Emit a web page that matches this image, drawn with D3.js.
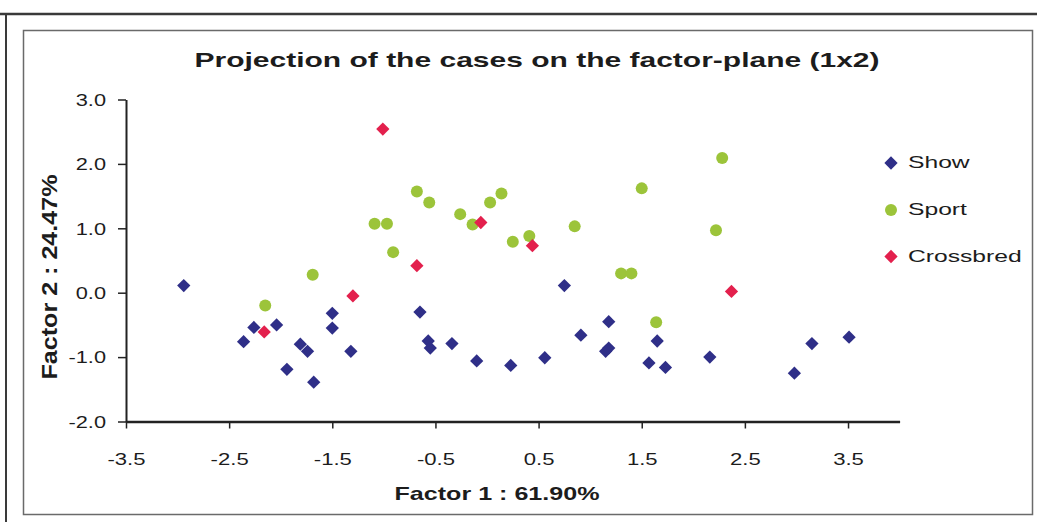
<!DOCTYPE html>
<html><head><meta charset="utf-8">
<script src="https://cdn.jsdelivr.net/npm/d3@7"></script>
<style>
body{margin:0;background:#fff}
svg{display:block}
text{font-family:"Liberation Sans",Arial,sans-serif;fill:#1c1c1c}
</style>
</head><body>
<svg id="c" width="1037" height="522"></svg>
<script>
// ---- data ----
const seriesNames = ["Show", "Sport", "Crossbred"];
const showX = [-2.94,-2.26,-2.04,-2.36,-1.50,-1.50,-1.81,-1.74,-1.32,-1.94,-1.68,0.75,-0.65,-0.57,-0.55,-0.34,-0.10,0.23,0.56,0.91,1.18,1.15,1.18,1.57,1.65,1.73,2.16,3.15,2.98,3.51];
const showY = [0.11,-0.54,-0.50,-0.76,-0.32,-0.55,-0.80,-0.91,-0.91,-1.19,-1.39,0.11,-0.30,-0.75,-0.86,-0.79,-1.06,-1.13,-1.01,-0.66,-0.45,-0.91,-0.86,-1.09,-0.75,-1.16,-1.00,-0.79,-1.25,-0.69];
const sportX = [-1.69,-2.15,-1.09,-0.97,-0.91,-0.68,-0.56,-0.26,-0.14,0.03,0.14,0.25,0.41,0.85,1.30,1.40,1.50,2.28,2.22,1.64];
const sportY = [0.28,-0.20,1.07,1.07,0.63,1.57,1.40,1.22,1.06,1.40,1.54,0.79,0.88,1.03,0.30,0.30,1.62,2.09,0.97,-0.46];
const crossX = [-1.01,-1.30,-2.16,-0.68,-0.06,0.44,2.37];
const crossY = [2.54,-0.05,-0.61,0.42,1.09,0.73,0.02];
const xTickValues = [-3.5,-2.5,-1.5,-0.5,0.5,1.5,2.5,3.5];
const yTickValues = [3,2,1,0,-1,-2];
const xDomain = [-3.5, 4.0];
const yDomain = [-2, 3];
const titleText = "Projection of the cases on the factor-plane (1x2)";
const xTitle = "Factor 1 : 61.90%";
const yTitle = "Factor 2 : 24.47%";

// ---- drawing ----
const svg = d3.select("#c");
const colors = {Show:"#2f2f88", Sport:"#9cc43a", Crossbred:"#e3204d"};
const fmt = d => d.toFixed(1);

function stretch(sel, f){
  sel.each(function(){
    const L = this.getComputedTextLength();
    d3.select(this).attr("textLength", L*f).attr("lengthAdjust","spacingAndGlyphs");
  });
}
function fitTo(sel, w){
  sel.attr("textLength", w).attr("lengthAdjust","spacingAndGlyphs");
}

// frames
svg.append("line").attr("x1",0).attr("x2",1037).attr("y1",14).attr("y2",14)
  .attr("stroke","#3a3a3a").attr("stroke-width",2.5);
svg.append("line").attr("x1",6).attr("x2",6).attr("y1",14).attr("y2",522)
  .attr("stroke","#3a3a3a").attr("stroke-width",2);
svg.append("rect").attr("x",23.5).attr("y",30.5).attr("width",1009).attr("height",484)
  .attr("fill","none").attr("stroke","#6a6a6a").attr("stroke-width",1.5);

const x = d3.scaleLinear().domain(xDomain).range([126, 899.6]);
const y = d3.scaleLinear().domain(yDomain).range([421.5, 99.5]);

// title
svg.append("text").attr("x",537).attr("y",67).attr("text-anchor","middle")
  .attr("font-size",21).attr("font-weight","bold").text(titleText).call(fitTo,685);

// y axis
const gy = svg.append("g").attr("transform","translate(126,0)")
  .call(d3.axisLeft(y).tickValues(yTickValues).tickFormat(fmt).tickSize(8).tickSizeOuter(0).tickPadding(12));
gy.select(".domain").attr("stroke","#222").attr("stroke-width",2);
gy.selectAll(".tick line").attr("stroke","#222").attr("stroke-width",1.5);
gy.selectAll("text").attr("font-size",16).attr("font-family",null).attr("fill","#1c1c1c").attr("dy","0.36em").call(stretch,1.36);

// x axis
const gx = svg.append("g").attr("transform","translate(0,421.5)")
  .call(d3.axisBottom(x).tickValues(xTickValues).tickFormat(fmt).tickSize(7).tickSizeOuter(0));
gx.select(".domain").attr("stroke","#222").attr("stroke-width",2.5);
gx.selectAll(".tick line").attr("stroke","#222").attr("stroke-width",1.5);
gx.selectAll("text").attr("font-size",17).attr("font-family",null).attr("fill","#1c1c1c").attr("y",43.5).attr("dy",0).call(stretch,1.3);

// axis titles
svg.append("text").attr("x",497).attr("y",500).attr("text-anchor","middle")
  .attr("font-size",19).attr("font-weight","bold").text(xTitle).call(fitTo,205);
svg.append("text").attr("transform","translate(57,277) rotate(-90)").attr("text-anchor","middle")
  .attr("font-size",22).attr("font-weight","bold").text(yTitle).call(fitTo,205);

// markers
const diamond = d3.symbol(d3.symbolSquare, 88);
function drawSeries(xs, ys, name){
  const pts = xs.map((v,i)=>({x:v, y:ys[i]}));
  const g = svg.append("g");
  if (name === "Sport") {
    g.selectAll("circle").data(pts).join("circle")
      .attr("cx",d=>x(d.x)).attr("cy",d=>y(d.y)).attr("r",6)
      .attr("fill",colors[name]);
  } else {
    g.selectAll("path").data(pts).join("path")
      .attr("d",diamond)
      .attr("transform",d=>`translate(${x(d.x)},${y(d.y)}) rotate(45)`)
      .attr("fill",colors[name]);
  }
}
drawSeries(showX, showY, "Show");
drawSeries(sportX, sportY, "Sport");
drawSeries(crossX, crossY, "Crossbred");

// legend
const legY = [163, 210, 256.5];
seriesNames.forEach((n,i)=>{
  if (n === "Sport") {
    svg.append("circle").attr("cx",891).attr("cy",legY[i]).attr("r",6).attr("fill",colors[n]);
  } else {
    svg.append("path").attr("d",diamond).attr("transform",`translate(891,${legY[i]}) rotate(45)`).attr("fill",colors[n]);
  }
  svg.append("text").attr("x",908).attr("y",legY[i]+5).attr("font-size",17).text(n).call(stretch,1.45);
});
</script>
</body></html>
